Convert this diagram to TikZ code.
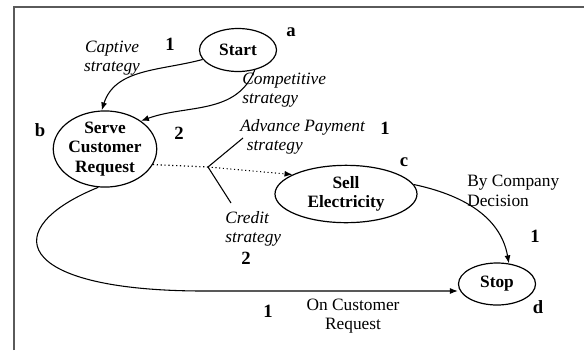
\documentclass[tikz,border=0pt]{standalone}
\usepackage{fontspec}
\setmainfont{Liberation Serif}
\usepackage{tikz}
\usetikzlibrary{shapes.geometric}
\usetikzlibrary{arrows.meta}

\tikzset{
  state/.style={draw, ellipse, line width=0.9, inner sep=0pt, font=\fontsize{13}{14.5}\selectfont\bfseries, align=center},
  tag/.style={font=\fontsize{14}{16}\selectfont\bfseries},
  note/.style={font=\fontsize{13}{14.5}\selectfont\itshape, align=left, inner sep=0pt},
  plain/.style={font=\fontsize{13}{14.5}\selectfont, inner sep=0pt},
  link/.style={line width=0.8, -{Latex[length=6pt,width=4.5pt]}},
}

\begin{document}
\begin{tikzpicture}[x=0.75pt,y=0.75pt,yscale=-1,xscale=1]
    \useasboundingbox (0,0) rectangle (584,350);
    %Frame
    \draw [color={rgb, 255:red, 90; green, 90; blue, 90 }  ,line width=1.5]    (14,350) -- (14,7) -- (584,7) ;

    %Shape: Ellipse [start]
    \node [state, minimum width=57.75pt, minimum height=32.25pt] (start) at (238,50) {Start};
    %Shape: Ellipse [serve]
    \node [state, minimum width=75pt, minimum height=54pt] (serve) at (105,149) {Serve\\Customer\\Request};
    %Shape: Ellipse [sell]
    \node [state, minimum width=106.5pt, minimum height=43pt] (sell) at (346,194) {Sell\\Electricity};
    %Shape: Ellipse [stop]
    \node [state, minimum width=57.75pt, minimum height=31.5pt] (stop) at (497,284) {Stop};

    %Letters
    \node [tag] (taga) at (291,32) {a};
    \node [tag] (tagb) at (40,130) {b};
    \node [tag] (tagc) at (404,162) {c};
    \node [tag] (tagd) at (538,307) {d};

    %Captive / competitive (y axis points down, so angles are mirrored)
    \draw [link]    (start.195) to[out=165,in=-72] (serve.95) ;
    \draw [link]    (start.-50) to[out=112,in=-20] (serve.38) ;
    \node [note, align=center] (captive) at (112,58) {Captive\\strategy};
    \node [note, anchor=west] (compet) at (242,90) {Competitive\\strategy};
    \node [tag] (capone) at (170,44) {1};
    \node [tag] (comptwo) at (179,133) {2};

    %Dotted link with branch
    \coordinate (fork) at (208,167);
    \draw [line width=0.9, dotted]    (serve.-18) -- (fork) ;
    \draw [link, dotted]    (fork) -- (sell.160) ;
    \node [note, anchor=west] (advance) at (240,137) {Advance Payment\\\hspace*{5pt}strategy};
    \node [note, anchor=west] (credit) at (225,229) {Credit\\strategy};
    \draw [line width=0.8]    (fork) -- (243,138) ;
    \draw [line width=0.8]    (fork) -- (231,203) ;
    \node [tag] (advone) at (385,128) {1};
    \node [tag] (credtwo) at (246,258) {2};

    %Sell to stop
    \draw [link]    (sell.8) to[out=12,in=-100] (stop.60) ;
    \node [plain, anchor=west, align=left] (company) at (467,191) {By Company\\Decision};
    \node [tag] (compone) at (535,236) {1};

    %Serve to stop
    \coordinate (loopbot) at (200,291);
    \draw [link]    (serve.-100) .. controls (-2,228) and (12,290) .. (loopbot) -- (stop.west |- loopbot) ;
    \node [plain, align=center] (customer) at (353,316) {On Customer\\Request};
    \node [tag] (custone) at (268,311) {1};
\end{tikzpicture}
\end{document}
